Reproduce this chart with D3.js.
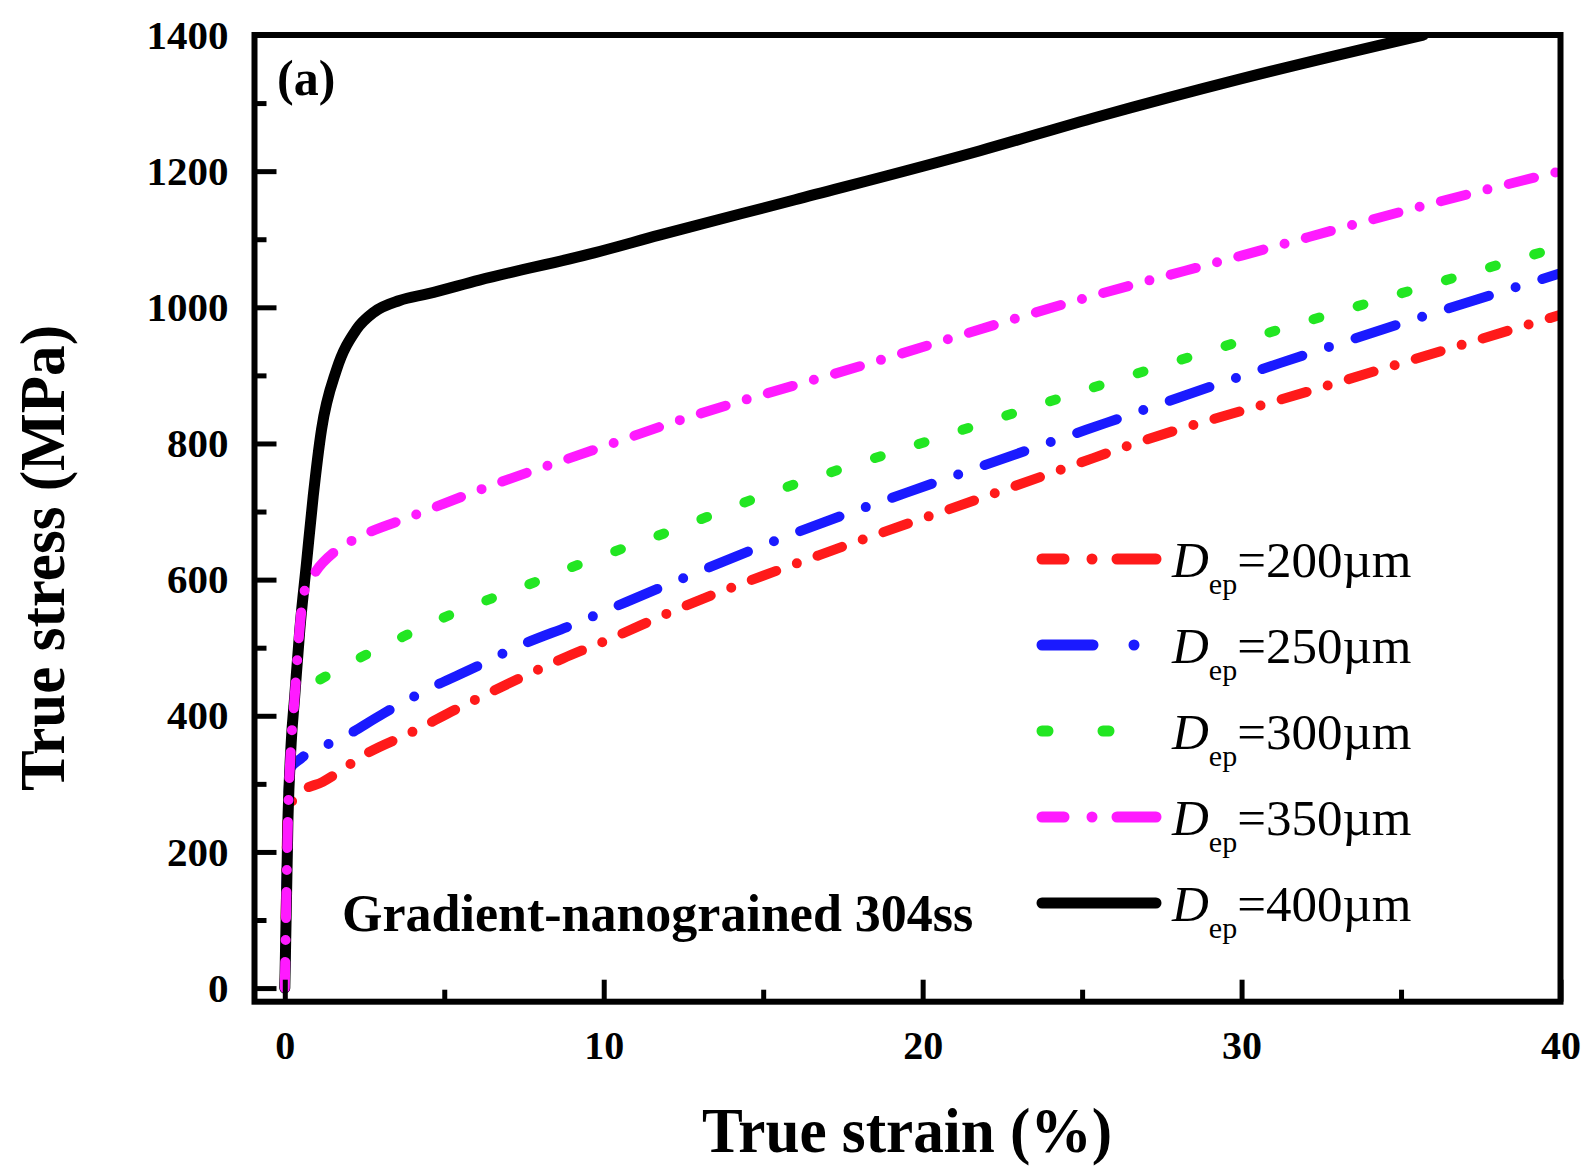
<!DOCTYPE html>
<html>
<head>
<meta charset="utf-8">
<script src="https://cdn.jsdelivr.net/npm/d3@7"></script>
<style>
  html, body { margin: 0; padding: 0; background: #ffffff; }
  svg { display: block; }
</style>
</head>
<body>
<svg id="chart" width="1590" height="1167"></svg>
<script>
// Tick values for both axes
const xMajorTicks = [0, 10, 20, 30, 40];
const xMinorTicks = [5, 15, 25, 35];
const yMajorTicks = [0, 200, 400, 600, 800, 1000, 1200, 1400];
const yMinorTicks = [100, 300, 500, 700, 900, 1100, 1300];

// Legend labels (thickness of the gradient layer, µm)
const depLabels = ["200", "250", "300", "350", "400"];

// True strain (%) vs true stress (MPa) for each layer thickness
const dep200 = [[0,0],[0.1,262],[0.25,276],[0.47,287],[1.19,303],[2.66,347],[3.9,374],[5.39,410],[7.36,455],[8.71,484],[10.1,511],[12.28,556],[16.76,636],[21.9,721],[24.9,771],[26.15,792],[32.2,878],[40,989]];
const dep250 = [[0,0],[0.1,250],[0.16,322],[0.5,337],[1.83,368],[3.08,403],[4.45,438],[6.0,472],[7.27,501],[9.15,536],[10.7,567],[12.28,598],[15.7,663],[20.6,746],[25.8,831],[31.2,918],[40,1050]];
const dep300 = [[0,0],[0.1,250],[0.2,360],[0.3,420],[0.55,438],[1.1,453],[2.35,485],[3.7,516],[5.17,548],[6.52,573],[7.77,595],[8.93,617],[10.2,639],[11.5,661],[15.2,727],[20.4,807],[25.6,886],[30.8,962],[34.6,1015],[40,1089]];
const dep350 = [[0,0],[0.1,250],[0.2,360],[0.31,428],[0.45,520],[0.6,580],[0.89,606],[1.62,643],[2.35,663],[3.92,692],[6.52,739],[9.65,790],[12.37,834],[18,913],[24.9,1011],[30,1076],[36.1,1154],[40,1200]];
const dep400 = [[0,0],[0.1,250],[0.2,360],[0.31,428],[0.47,526],[0.68,624],[0.89,722],[1.15,820],[1.62,908],[2.24,967],[2.8,993],[3.6,1010],[4.5,1020],[6.1,1040],[9.7,1080],[11.74,1106],[16,1158],[21.8,1230],[25.5,1280],[30,1336],[35.7,1400]];

const series = [
  { label: depLabels[0], data: dep200, color: "#ff1a1a", dash: "26,22,0,22", legendDash: "22,28,0,25,60" },
  { label: depLabels[1], data: dep250, color: "#1a1aff", dash: "42,28,0,28", legendDash: "51,41,0,100" },
  { label: depLabels[2], data: dep300, color: "#22e622", dash: "6,40", legendDash: "6,55,6,200" },
  { label: depLabels[3], data: dep350, color: "#ff1aff", dash: "26,22,0,22", legendDash: "22,28,0,25,60" },
  { label: depLabels[4], data: dep400, color: "#000000", dash: null, legendDash: null }
];
// drawing order: thinner layers first, the 400 µm curve, then the 350 µm curve on top
const drawOrder = [0, 1, 2, 4, 3];

const svg = d3.select("#chart");
const plotLeft = 254.5, plotRight = 1560.5, plotTop = 35, plotBottom = 1001.7;
const serif = "'Liberation Serif', 'Times New Roman', Times, serif";

const x = d3.scaleLinear().domain([-0.95, 40]).range([plotLeft, plotRight]);
const y = d3.scaleLinear().domain([-20, 1400]).range([plotBottom, plotTop]);

// clip region for the curves
svg.append("defs").append("clipPath").attr("id", "plotClip")
  .append("rect")
  .attr("x", plotLeft).attr("y", plotTop)
  .attr("width", plotRight - plotLeft).attr("height", plotBottom - plotTop);

// curves
const line = d3.line()
  .x(d => x(d[0]))
  .y(d => y(d[1]))
  .curve(d3.curveMonotoneX);

const curves = svg.append("g").attr("clip-path", "url(#plotClip)");
drawOrder.forEach(i => {
  const s = series[i];
  curves.append("path")
    .datum(s.data)
    .attr("d", line)
    .attr("fill", "none")
    .attr("stroke", s.color)
    .attr("stroke-width", i === 4 ? 11 : 10)
    .attr("stroke-linecap", "round")
    .attr("stroke-linejoin", "round")
    .attr("stroke-dasharray", s.dash);
});

// axes with inward ticks
function styleAxis(g, fontSize) {
  g.select(".domain").remove();
  g.selectAll(".tick line").attr("stroke", "#000").attr("stroke-width", 5);
  g.selectAll(".tick text")
    .attr("fill", "#000")
    .style("font-family", serif)
    .style("font-weight", "bold")
    .style("font-size", fontSize + "px");
}

const xAxis = svg.append("g").attr("transform", `translate(0,${plotBottom})`)
  .call(d3.axisBottom(x).tickValues(xMajorTicks).tickSize(-22).tickPadding(29).tickFormat(d3.format("d")));
styleAxis(xAxis, 40);
const xAxisMinor = svg.append("g").attr("transform", `translate(0,${plotBottom})`)
  .call(d3.axisBottom(x).tickValues(xMinorTicks).tickSize(-12).tickFormat(""));
styleAxis(xAxisMinor, 40);

const yAxis = svg.append("g").attr("transform", `translate(${plotLeft},0)`)
  .call(d3.axisLeft(y).tickValues(yMajorTicks).tickSize(-22).tickPadding(26).tickFormat(d3.format("d")));
styleAxis(yAxis, 41);
const yAxisMinor = svg.append("g").attr("transform", `translate(${plotLeft},0)`)
  .call(d3.axisLeft(y).tickValues(yMinorTicks).tickSize(-12).tickFormat(""));
styleAxis(yAxisMinor, 40);

// frame
svg.append("rect")
  .attr("x", plotLeft).attr("y", plotTop)
  .attr("width", plotRight - plotLeft).attr("height", plotBottom - plotTop)
  .attr("fill", "none")
  .attr("stroke", "#000")
  .attr("stroke-width", 6);

// axis titles
svg.append("text")
  .attr("x", 907).attr("y", 1152)
  .attr("text-anchor", "middle")
  .attr("textLength", 410).attr("lengthAdjust", "spacingAndGlyphs")
  .style("font-family", serif).style("font-weight", "bold").style("font-size", "64px")
  .text("True strain (%)");

svg.append("text")
  .attr("transform", "translate(64,558) rotate(-90)")
  .attr("text-anchor", "middle")
  .attr("textLength", 466).attr("lengthAdjust", "spacingAndGlyphs")
  .style("font-family", serif).style("font-weight", "bold").style("font-size", "64px")
  .text("True stress (MPa)");

// panel letter and material note
svg.append("text")
  .attr("x", 277).attr("y", 95)
  .style("font-family", serif).style("font-weight", "bold").style("font-size", "50px")
  .text("(a)");

svg.append("text")
  .attr("x", 342).attr("y", 931)
  .style("font-family", serif).style("font-weight", "bold").style("font-size", "52px")
  .text("Gradient-nanograined 304ss");

// legend
const legend = svg.append("g");
series.forEach((s, i) => {
  const base = 577 + 86 * i;
  const row = legend.append("g");
  row.append("line")
    .attr("x1", 1042).attr("x2", 1156)
    .attr("y1", base - 18).attr("y2", base - 18)
    .attr("stroke", s.color)
    .attr("stroke-width", 11)
    .attr("stroke-linecap", "round")
    .attr("stroke-dasharray", s.legendDash);
  const t = row.append("text")
    .attr("x", 1172).attr("y", base)
    .style("font-family", serif).style("font-size", "51px").attr("fill", "#000");
  t.append("tspan").style("font-style", "italic").text("D");
  t.append("tspan").attr("dy", 17).style("font-size", "30px").text("ep");
  t.append("tspan").attr("dy", -17).text("=" + s.label + "\u00b5m");
});
</script>
</body>
</html>
